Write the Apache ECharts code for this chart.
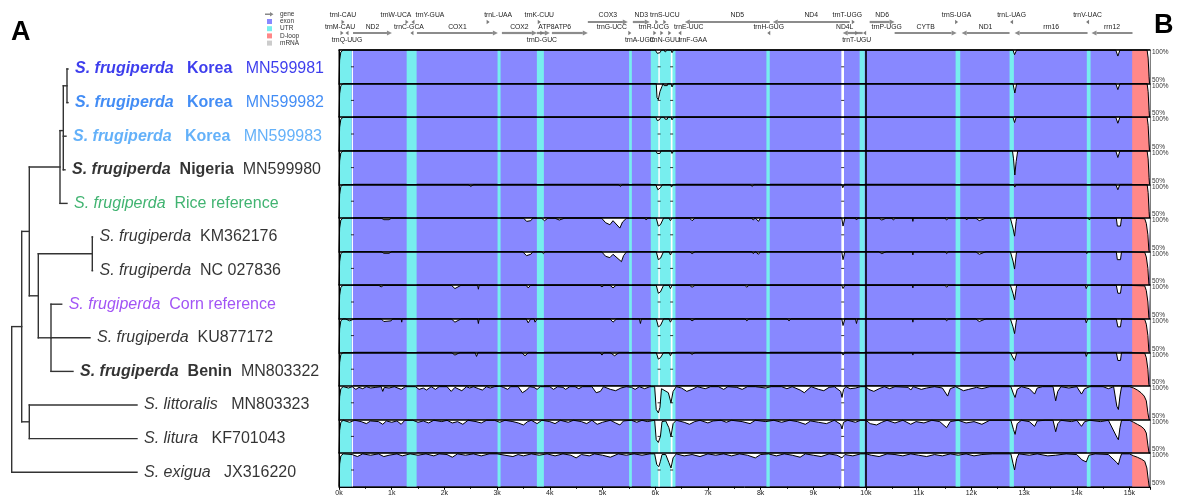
<!DOCTYPE html>
<html><head><meta charset="utf-8">
<script src="https://cdn.jsdelivr.net/npm/echarts@6/dist/echarts.min.js"></script>
<style>html,body{margin:0;padding:0;background:#fff}#c{width:1180px;height:497px}</style>
</head><body><div id="c"></div>
<script>
// ---------------- DATA ----------------
const SEQ_LEN = 15390;
const JUNCTION = 9994;
const TICK_LABELS = ['0k','1k','2k','3k','4k','5k','6k','7k','8k','9k','10k','11k','12k','13k','14k','15k'];

// leaf order (top to bottom)
const LEAF_SPECIES = ['S. frugiperda','S. frugiperda','S. frugiperda','S. frugiperda','S. frugiperda','S. frugiperda','S. frugiperda','S. frugiperda','S. frugiperda','S. frugiperda','S. littoralis','S. litura','S. exigua'];
const LEAF_PLACE = ['Korea','Korea','Korea','Nigeria','Rice reference','','','Corn reference','','Benin','','',''];
const LEAF_ACCESSION = ['MN599981','MN599982','MN599983','MN599980','','KM362176','NC 027836','','KU877172','MN803322','MN803323','KF701043','JX316220'];
// tree: [name, depth, children]; numbers are leaf indexes
const TREE = ['root', 11.7, [
  ['n5', 21.7, [
    ['n4', 29.3, [
      ['n3', 60, [
        ['n2', 63.3, [ ['n1', 67, [0, 1]], 2, 3 ]],
        4 ]],
      ['n7', 38.3, [
        ['n8', 92.3, [5, 6]],
        ['n9', 51, [7, 8, 9]] ]] ]],
    ['n6', 29.3, [10, 11]] ]],
  12 ]];
const LEAF_DEPTH = [68, 68, 66, 65, 67, 92.5, 92.5, 61.7, 90, 73, 137, 137, 137];

// feature bands (bp)
const UTR_BANDS = [[0,240],[1284,1473],[3009,3066],[3755,3888],[5505,5557],[5917,6385],[8111,8174],[9880,9975],[11701,11789],[12725,12807],[14191,14262]];
const DLOOP_BANDS = [[15052,15375]];
const GAP_BANDS = [[245,265],[6060,6088],[6296,6328],[9533,9583]];
const GAP_MARKS = [255, 6074, 6312, 9558];

// genes: name, start, end, strand, tier
const GENES = [
 ['ND2',266,1005,1,'B'],['COX1',1479,3015,1,'B'],['COX2',3091,3755,1,'B'],['ATP8',3755,4002,1,'B'],
 ['ATP6',4040,4722,1,'B'],['COX3',4722,5481,1,'A'],['ND3',5576,5898,1,'A'],['ND5',6562,8174,-1,'A'],
 ['ND4',8231,9691,-1,'A'],['ND4L',9558,9937,-1,'B'],['ND6',10070,10544,1,'A'],['CYTB',10544,11720,1,'B'],
 ['ND1',11815,12725,-1,'B'],['rrn16',12820,14205,-1,'B'],['rrn12',14280,15058,-1,'B']
];
// tRNAs: name, position, strand, marker tier, label tier
const TRNAS = [
 ['trnI-CAU',76,1,'A','A'],['trnM-CAU',57,1,'B','B'],['trnQ-UUG',152,-1,'B','C'],
 ['trnW-UCA',1290,1,'A','A'],['trnC-GCA',1384,-1,'B','B'],['trnY-GUA',1403,-1,'A','A'],
 ['trnL-UAA',2830,1,'A','A'],['trnK-CUU',3800,1,'A','A'],['trnD-GUC',3850,1,'B','C'],
 ['trnG-UCC',5519,1,'B','B'],['trnA-UGC',5993,1,'B','C'],['trnR-UCG',6031,1,'A','B'],
 ['trnN-GUU',6126,1,'B','C'],['trnS-UCU',6183,1,'A','A'],['trnE-UUC',6277,1,'B','B'],
 ['trnF-GAA',6467,-1,'B','C'],['trnH-GUG',8155,-1,'B','B'],['trnT-UGG',9760,1,'A','A'],
 ['trnT-UGU',9824,1,'B','C'],['trnP-UGG',9975,-1,'B','B'],['trnS-UGA',11720,1,'A','A'],
 ['trnL-UAG',12763,-1,'A','A'],['trnV-UAC',14205,-1,'A','A']
];

// conservation curves (% identity) per row
const CONS_MN599981 = [[0,50],[12,85],[35,97],[80,100],[6000,100],[6040,95],[6090,96],[6120,100],[6170,100],[6190,97],[6230,100],[6300,100],[6320,96],[6350,100],[12790,100],[12820,93],[12860,100],[14740,100],[14780,91],[14820,100],[15335,100],[15355,88],[15372,60],[15380,50],[15390,50]];
const CONS_MN599982 = [[0,50],[12,85],[35,97],[80,100],[6020,100],[6035,79],[6060,76],[6090,88],[6130,96],[6150,100],[6170,97],[6230,97],[6240,100],[6300,100],[6320,95],[6350,100],[12790,100],[12825,86],[12860,100],[14740,100],[14780,91],[14820,100],[15335,100],[15355,88],[15372,60],[15380,50],[15390,50]];
const CONS_MN599983 = [[0,50],[12,85],[35,97],[80,100],[6010,100],[6040,95],[6080,96],[6110,100],[6170,100],[6190,97],[6230,97],[6240,100],[6300,100],[6320,96],[6350,100],[12790,100],[12820,92],[12850,100],[14740,100],[14780,91],[14820,100],[15335,100],[15355,88],[15372,60],[15380,50],[15390,50]];
const CONS_MN599980 = [[0,50],[12,85],[35,97],[80,100],[6010,100],[6040,96],[6090,96],[6110,100],[6300,100],[6320,96],[6350,100],[12780,100],[12800,88],[12825,64],[12850,84],[12880,100],[14740,100],[14780,90],[14820,100],[15335,100],[15355,88],[15372,60],[15380,50],[15390,50]];
const CONS_RICE = [[0,50],[12,85],[35,97],[80,100],[2450,100],[2500,97],[2560,100],[5300,100],[5340,97],[5380,100],[6010,100],[6050,92],[6100,95],[6140,100],[6290,100],[6310,96],[6340,100],[7800,100],[7840,97],[7880,100],[9540,100],[9560,95],[9590,100],[12800,100],[12825,96],[12850,100],[14740,100],[14780,92],[14820,100],[15335,100],[15355,88],[15372,60],[15380,50],[15390,50]];
const CONS_KM362176 = [[0,50],[12,85],[35,97],[80,100],[800,100],[850,97.5],[950,97.5],[1000,100],[2040,100],[2070,98],[2110,100],[3500,100],[3560,95],[3640,96],[3680,100],[3840,100],[3900,96],[3970,100],[4090,100],[4180,97],[4290,100],[4980,100],[5060,93],[5140,90],[5200,96],[5330,85],[5380,94],[5460,100],[5800,100],[5830,97],[5860,100],[6020,100],[6060,88],[6100,90],[6160,100],[6260,100],[6290,96],[6320,100],[6650,100],[6700,96],[6760,100],[7230,100],[7260,98],[7300,100],[7830,100],[7860,97],[7900,100],[7960,95],[8000,100],[8900,100],[8930,97.5],[8970,100],[9540,100],[9565,88],[9600,100],[9800,100],[9820,97],[9850,100],[10240,100],[10300,97],[10390,100],[10490,100],[10520,97],[10560,100],[10880,100],[10890,95],[10900,100],[11000,100],[11020,97.5],[11050,100],[11500,100],[11530,97],[11570,100],[11890,100],[11910,97],[11940,100],[12080,100],[12150,96],[12280,100],[12740,100],[12790,85],[12820,73],[12850,95],[12860,100],[14220,100],[14240,97],[14260,100],[14750,100],[14770,88],[14830,88],[14850,100],[15290,99],[15320,92],[15350,75],[15368,52],[15380,50],[15390,50]];
const CONS_NC027836 = [[0,50],[12,85],[35,97],[80,100],[800,100],[850,97.5],[950,97.5],[1000,100],[3480,100],[3560,94],[3640,96],[3680,100],[3840,100],[3880,97],[3920,100],[4980,100],[5060,93],[5140,91],[5200,96],[5360,85],[5400,94],[5460,100],[6020,100],[6060,88],[6100,90],[6160,100],[6260,100],[6290,95],[6320,100],[6650,100],[6700,97],[6760,100],[7830,100],[7860,97],[7900,100],[7960,96],[8000,100],[9540,100],[9565,88],[9600,100],[10240,100],[10300,97],[10390,100],[10880,100],[10890,95],[10900,100],[11500,100],[11530,97],[11570,100],[12080,100],[12150,96],[12280,100],[12740,100],[12790,86],[12820,74],[12850,95],[12860,100],[14170,100],[14190,97],[14210,100],[14750,100],[14770,88],[14830,88],[14850,100],[15290,99],[15320,92],[15350,75],[15368,52],[15380,50],[15390,50]];
const CONS_CORN = [[0,50],[12,85],[35,97],[80,100],[750,100],[800,97.5],[850,100],[2130,100],[2200,95],[2320,100],[2630,100],[2645,94],[2660,100],[3550,100],[3590,96],[3640,100],[4950,100],[4990,97.5],[5030,100],[5140,100],[5200,96],[5260,100],[6020,100],[6060,88],[6100,90],[6160,100],[6260,100],[6290,95],[6320,100],[6650,100],[6700,97],[6760,100],[7700,100],[7740,97],[7780,100],[9540,100],[9565,95],[9600,100],[10880,100],[10890,96],[10900,100],[11500,100],[11530,97],[11570,100],[12740,100],[12790,88],[12820,78],[12850,95],[12860,100],[14160,100],[14180,95],[14210,100],[14750,100],[14780,88],[14830,88],[14850,100],[15290,99],[15320,92],[15350,75],[15368,52],[15380,50],[15390,50]];
const CONS_KU877172 = [[0,50],[12,85],[35,97],[80,100],[120,100],[200,97],[300,100],[800,100],[850,96],[990,97],[1020,100],[1180,100],[1190,95],[1200,100],[2130,100],[2200,95],[2320,100],[2630,100],[2645,93],[2660,100],[3550,100],[3590,94],[3640,100],[3700,100],[3720,95],[3760,100],[5140,100],[5200,95],[5270,100],[5700,100],[5720,93],[5740,100],[6020,100],[6060,88],[6100,90],[6160,100],[6260,100],[6290,95],[6320,100],[6650,100],[6700,97],[6760,100],[7700,100],[7740,97],[7780,100],[8500,100],[8540,97],[8580,100],[9540,100],[9565,90],[9600,100],[9800,100],[9820,93],[9840,100],[10880,100],[10890,95],[10900,100],[11500,100],[11530,97],[11570,100],[12080,100],[12150,96],[12280,100],[12740,100],[12790,88],[12820,78],[12850,95],[12860,100],[14160,100],[14180,94],[14210,100],[14750,100],[14780,88],[14830,88],[14850,100],[15290,99],[15320,92],[15350,75],[15368,52],[15380,50],[15390,50]];
const CONS_MN803322 = [[0,50],[12,85],[35,97],[80,100],[780,100],[810,97.5],[840,100],[2130,100],[2200,96],[2300,100],[2580,100],[2610,94],[2640,100],[3460,100],[3530,95],[3600,100],[4950,100],[4990,96],[5030,100],[5140,100],[5230,95],[5320,100],[6020,100],[6060,90],[6100,92],[6160,100],[6260,100],[6290,95],[6320,100],[6650,100],[6700,97],[6760,100],[9540,100],[9565,96],[9600,100],[10880,100],[10890,96],[10900,100],[12740,100],[12790,92],[12820,88],[12850,96],[12860,100],[14160,100],[14180,94],[14210,100],[14750,100],[14780,88],[14830,88],[14850,100],[15290,99],[15320,92],[15350,75],[15368,52],[15380,50],[15390,50]];
const CONS_LITTORALIS = [[0,50],[12,84],[35,96],[80,99],[180,97],[250,99],[320,95],[380,98],[450,96],[520,99],[600,97],[700,98],[800,99],[830,92],[860,98],[950,97],[1050,99],[1180,95],[1260,99],[1450,99],[1520,95],[1600,97],[1660,94],[1750,99],[1830,95],[1900,99],[2050,99],[2130,92],[2200,98],[2330,93],[2420,99],[2480,97],[2550,99],[2650,96],[2720,94],[2800,99],[2870,97],[2950,99],[3050,100],[3120,98],[3200,95],[3260,99],[3400,99],[3480,90],[3560,94],[3620,99],[3700,98],[3760,95],[3820,99],[4000,99],[4070,95],[4150,99],[4250,98],[4300,95],[4380,99],[4480,99],[4550,96],[4620,99],[4800,99],[4880,90],[4960,92],[5020,99],[5150,95],[5250,93],[5350,97],[5450,99],[5550,98],[5620,95],[5700,99],[5800,96],[5900,99],[5990,99],[6020,65],[6060,60],[6090,68],[6120,96],[6150,98],[6250,90],[6300,75],[6340,92],[6400,99],[6500,97],[6600,92],[6700,95],[6800,99],[6950,96],[7050,99],[7200,99],[7300,95],[7380,99],[7550,98],[7650,95],[7750,99],[7900,99],[8100,97],[8200,99],[8400,99],[8500,96],[8600,99],[8750,94],[8830,90],[8900,95],[8960,99],[9100,95],[9200,93],[9300,98],[9400,99],[9520,92],[9545,83],[9575,95],[9620,99],[9700,96],[9800,97],[9900,99],[10000,99],[10050,95],[10150,92],[10250,96],[10350,99],[10450,96],[10550,99],[10800,98],[10850,94],[10900,99],[11050,95],[11150,97],[11300,99],[11450,97],[11550,85],[11600,96],[11700,99],[11850,93],[11950,95],[12100,98],[12200,96],[12350,99],[12750,99],[12800,88],[12830,83],[12870,95],[12950,99],[13100,96],[13200,88],[13250,97],[13350,99],[13550,99],[13600,78],[13640,92],[13700,99],[13850,97],[14000,99],[14090,88],[14150,96],[14250,99],[14500,99],[14600,96],[14700,99],[14760,70],[14790,65],[14820,85],[14850,99],[15000,99],[15080,97],[15150,94],[15220,90],[15280,85],[15320,78],[15350,60],[15372,50],[15390,50]];
const CONS_LITURA = [[0,50],[12,84],[35,96],[80,99],[200,96],[300,99],[420,97],[520,94],[600,98],[750,97],[830,93],[900,98],[1000,96],[1100,98],[1180,93],[1250,99],[1400,99],[1500,96],[1600,98],[1700,95],[1800,99],[1950,97],[2050,99],[2150,95],[2250,97],[2350,93],[2450,99],[2600,97],[2700,95],[2800,99],[2950,99],[3050,96],[3150,99],[3300,97],[3400,95],[3500,92],[3580,97],[3650,99],[3760,94],[3850,99],[4000,97],[4100,94],[4200,99],[4350,96],[4450,99],[4600,97],[4700,94],[4800,99],[4900,93],[5000,96],[5150,99],[5250,95],[5330,92],[5400,98],[5550,99],[5650,96],[5750,99],[5850,97],[5990,99],[6020,70],[6060,66],[6100,75],[6130,97],[6200,98],[6260,88],[6300,75],[6340,94],[6400,99],[6550,96],[6650,93],[6750,97],[6850,99],[7000,95],[7100,98],[7250,99],[7350,96],[7450,99],[7650,97],[7800,94],[7900,99],[8100,97],[8250,99],[8400,96],[8550,99],[8700,97],[8850,93],[8950,98],[9100,96],[9250,94],[9400,99],[9520,93],[9545,86],[9575,96],[9650,99],[9800,96],[9900,99],[10000,99],[10080,94],[10200,92],[10300,96],[10400,99],[10550,95],[10700,99],[10850,93],[10950,97],[11100,95],[11250,99],[11400,97],[11530,88],[11600,97],[11750,99],[11900,95],[12050,97],[12200,93],[12350,99],[12750,99],[12800,85],[12830,78],[12870,94],[12950,99],[13100,97],[13200,90],[13250,98],[13400,99],[13550,99],[13600,82],[13640,94],[13700,99],[13900,97],[14000,99],[14090,90],[14150,97],[14250,99],[14450,97],[14600,99],[14760,74],[14790,70],[14820,88],[14850,99],[15000,99],[15080,96],[15150,93],[15220,90],[15280,86],[15320,80],[15350,62],[15372,50],[15390,50]];
const CONS_EXIGUA = [[0,50],[12,84],[35,96],[80,99],[250,98],[350,95],[450,99],[600,97],[750,99],[850,95],[950,97],[1100,99],[1200,96],[1350,99],[1500,97],[1650,99],[1800,96],[1900,99],[2050,98],[2150,94],[2250,99],[2400,97],[2550,99],[2700,96],[2850,99],[3000,99],[3150,97],[3300,95],[3400,98],[3500,96],[3650,99],[3800,97],[3950,99],[4100,96],[4250,99],[4400,97],[4500,93],[4600,98],[4750,96],[4850,99],[5000,97],[5150,94],[5300,99],[5450,97],[5600,99],[5750,97],[5900,99],[5990,99],[6030,83],[6070,80],[6100,88],[6130,98],[6200,98],[6260,86],[6300,78],[6340,93],[6400,99],[6550,96],[6700,98],[6850,95],[7000,99],[7150,97],[7300,99],[7450,96],[7600,99],[7750,97],[7900,93],[8000,98],[8150,99],[8300,96],[8450,99],[8600,97],[8750,94],[8850,99],[9000,97],[9150,95],[9300,99],[9450,97],[9545,93],[9600,98],[9750,96],[9900,99],[10000,99],[10100,97],[10250,95],[10400,99],[10550,98],[10700,96],[10850,99],[11000,97],[11150,95],[11300,98],[11450,96],[11600,99],[11750,97],[11900,99],[12050,96],[12200,98],[12400,99],[12750,99],[12790,85],[12820,75],[12860,92],[12900,99],[13100,97],[13250,99],[13450,96],[13600,97],[13800,99],[14000,98],[14100,90],[14180,87],[14230,97],[14350,99],[14600,98],[14760,86],[14790,83],[14820,92],[14850,99],[15000,99],[15080,96],[15150,94],[15230,91],[15290,88],[15330,78],[15358,60],[15375,50],[15390,50]];
const CURVES = [CONS_MN599981, CONS_MN599982, CONS_MN599983, CONS_MN599980, CONS_RICE, CONS_KM362176, CONS_NC027836, CONS_CORN, CONS_KU877172, CONS_MN803322, CONS_LITTORALIS, CONS_LITURA, CONS_EXIGUA];

// ---------------- LAYOUT / STYLE ----------------
const FONT = 'Liberation Sans, Arial, Helvetica, sans-serif';
const ROWS = CURVES.length;
const ROW_TOP = 50, ROW_H = 33.6, PLOT_LEFT = 339, PLOT_W = 811;
const COL = {exon:'#8888ff', utr:'#77eeee', dloop:'#ff8888', gap:'#ffffff', mrna:'#cccccc', gene:'#8c8c8c'};
const BAND_FILL = [COL.utr, COL.dloop, COL.gap];
const TIER_Y = {A:22, B:33, A_label:15, B_label:27, C_label:40};
const LABEL_DX = {'trnM-CAU':-2,'trnW-UCA':-11,'trnC-GCA':-3,'trnY-GUA':17,'trnL-UAA':10,'trnG-UCC':-18,'trnA-UGC':-15,'trnR-UCG':-3,'trnN-GUU':3,'trnE-UUC':19,'trnF-GAA':13,'trnP-UGG':22,'trnT-UGG':-6,'ATP8':3,'ATP6':-7,'ND5':10,'ND4L':-8};
const LEAF_STYLE = [
  {color:'#0c0ce8', sp:'bi', pl:'b', gap1:'   ', gap2:'   '},
  {color:'#1470f2', sp:'bi', pl:'b', gap1:'   ', gap2:'   '},
  {color:'#3d9ef7', sp:'bi', pl:'b', gap1:'   ', gap2:'   '},
  {color:'#000000', sp:'bi', pl:'b', gap1:'  ', gap2:'  '},
  {color:'#12a04e', sp:'i', pl:'n', gap1:'  ', gap2:''},
  {color:'#000000', sp:'i', pl:'n', gap1:'  ', gap2:''},
  {color:'#000000', sp:'i', pl:'n', gap1:'  ', gap2:''},
  {color:'#8a28f2', sp:'i', pl:'n', gap1:'  ', gap2:''},
  {color:'#000000', sp:'i', pl:'n', gap1:'  ', gap2:''},
  {color:'#000000', sp:'bi', pl:'b', gap1:'  ', gap2:'  '},
  {color:'#000000', sp:'i', pl:'n', gap1:'   ', gap2:''},
  {color:'#000000', sp:'i', pl:'n', gap1:'   ', gap2:''},
  {color:'#000000', sp:'i', pl:'n', gap1:'   ', gap2:''}
];

// ---------------- BUILD ----------------
const grids = [], xAxes = [], yAxes = [], series = [];
const bands = [];
UTR_BANDS.forEach(b => bands.push([b[0], b[1], 0]));
DLOOP_BANDS.forEach(b => bands.push([b[0], b[1], 1]));
GAP_BANDS.forEach(b => bands.push([b[0], b[1], 2]));

for (let i = 0; i < ROWS; i++) {
  grids.push({left: PLOT_LEFT, top: ROW_TOP + i * ROW_H, width: PLOT_W, height: ROW_H,
    show: true, backgroundColor: COL.exon, borderColor: '#000', borderWidth: 1, z: -5, containLabel: false, outerBoundsMode: 'none'});
  xAxes.push({gridIndex: i, type: 'value', min: 0, max: SEQ_LEN, position: 'top',
    axisLine: {show: true, onZero: false, lineStyle: {color: '#000', width: 1.6}}, axisTick: {show: false},
    axisLabel: {show: false}, splitLine: {show: false}, z: 10});
  yAxes.push({gridIndex: i, type: 'value', min: 50, max: 100, interval: 50, position: 'right',
    axisLine: {show: false}, axisTick: {show: false}, splitLine: {show: false},
    axisLabel: {show: true, margin: 2, formatter: v => v === 100 ? '{t|100%}' : (v === 50 ? '{b|50%}' : ''),
      rich: {t: {fontSize: 6.5, color: '#333', fontFamily: FONT, padding: [5, 0, 0, 0]},
             b: {fontSize: 6.5, color: '#333', fontFamily: FONT, padding: [0, 0, 7, 0]}}}});
}
for (let i = 0; i < ROWS; i++) {
  yAxes.push({gridIndex: i, type: 'value', min: 50, max: 100, position: 'left',
    axisLine: {show: true, onZero: false, lineStyle: {color: '#000', width: 1}}, axisTick: {show: false},
    axisLabel: {show: false}, splitLine: {show: false}, z: 10});
}
// bottom axis
xAxes.push({gridIndex: ROWS - 1, type: 'value', min: 0, max: SEQ_LEN, interval: 1000, position: 'bottom',
  axisLine: {show: true, onZero: false, lineStyle: {color: '#000', width: 1}},
  axisTick: {show: true, length: 3, lineStyle: {color: '#000'}},
  minorTick: {show: true, splitNumber: 2, length: 2, lineStyle: {color: '#000'}},
  axisLabel: {show: true, margin: 3, fontSize: 7, color: '#222', fontFamily: FONT, showMaxLabel: false,
    formatter: v => TICK_LABELS[Math.round(v / 1000)] || ''},
  splitLine: {show: false}, z: 10});

function bandRender(params, api) {
  const s = api.value(0), e = api.value(1), t = api.value(2);
  const p0 = api.coord([s, 100]), p1 = api.coord([e, 50]);
  return {type: 'rect', shape: {x: p0[0], y: p0[1], width: Math.max(p1[0] - p0[0], 1), height: p1[1] - p0[1]},
    style: {fill: BAND_FILL[t]}};
}

for (let i = 0; i < ROWS; i++) {
  series.push({type: 'custom', xAxisIndex: i, yAxisIndex: i, renderItem: bandRender, data: bands,
    encode: {x: [0, 1]}, z: -4, silent: true, clip: true});
  series.push({type: 'line', xAxisIndex: i, yAxisIndex: i, data: CURVES[i], showSymbol: false, symbol: 'none',
    lineStyle: {color: '#000', width: 1}, areaStyle: {color: '#ffffff', opacity: 1, origin: 'end'},
    z: 2, silent: true, clip: true,
    markLine: {silent: true, symbol: ['none', 'none'], label: {show: false},
      lineStyle: {color: '#000', width: 1.6, type: 'solid'}, data: [{xAxis: JUNCTION}], animation: false}});
  series.push({type: 'scatter', xAxisIndex: i, yAxisIndex: i, data: GAP_MARKS.map(p => [p, 75]),
    symbol: 'rect', symbolSize: [3, 1], itemStyle: {color: '#000'}, z: 3, silent: true});
}

// annotation track
const annGrid = grids.length;
grids.push({left: PLOT_LEFT, top: 0, width: PLOT_W, height: 48, show: false, containLabel: false, outerBoundsMode: 'none'});
const annX = xAxes.length, annY = yAxes.length;
xAxes.push({gridIndex: annGrid, type: 'value', min: 0, max: SEQ_LEN, show: false});
yAxes.push({gridIndex: annGrid, type: 'value', min: 0, max: 48, inverse: true, show: false});

function textEl(x, y, txt) {
  return {type: 'text', x: x, y: y, style: {text: txt, fontSize: 6.8, fontFamily: FONT, fill: '#222', align: 'center', verticalAlign: 'middle'}};
}
function geneRender(params, api) {
  const g = GENES[params.dataIndex];
  const a = api.coord([g[1], TIER_Y[g[4]]]), b = api.coord([g[2], TIER_Y[g[4]]]);
  const y = a[1], head = 5, hh = 2.6;
  let body, tri;
  if (g[3] > 0) { body = [[a[0], y], [b[0] - head, y]]; tri = [[b[0] - head, y - hh], [b[0], y], [b[0] - head, y + hh]]; }
  else { body = [[a[0] + head, y], [b[0], y]]; tri = [[a[0] + head, y - hh], [a[0], y], [a[0] + head, y + hh]]; }
  const lx = (a[0] + b[0]) / 2 + (LABEL_DX[g[0]] || 0);
  return {type: 'group', children: [
    {type: 'polyline', shape: {points: body}, style: {stroke: COL.gene, lineWidth: 2.2, fill: null}},
    {type: 'polygon', shape: {points: tri}, style: {fill: COL.gene}},
    textEl(lx, TIER_Y[g[4] + '_label'], g[0])]};
}
function trnaRender(params, api) {
  const t = TRNAS[params.dataIndex];
  const p = api.coord([t[1], TIER_Y[t[3]]]);
  const x = p[0], y = p[1], w = 3, hh = 2.2;
  const tri = t[2] > 0 ? [[x - w / 2, y - hh], [x + w / 2, y], [x - w / 2, y + hh]] : [[x + w / 2, y - hh], [x - w / 2, y], [x + w / 2, y + hh]];
  return {type: 'group', children: [
    {type: 'polygon', shape: {points: tri}, style: {fill: '#7a7a7a'}},
    textEl(x + (LABEL_DX[t[0]] || 0), TIER_Y[t[4] + '_label'], t[0])]};
}
series.push({type: 'custom', xAxisIndex: annX, yAxisIndex: annY, renderItem: geneRender,
  data: GENES.map(g => [g[1], g[2]]), encode: {x: [0, 1]}, clip: false, silent: true});
series.push({type: 'custom', xAxisIndex: annX, yAxisIndex: annY, renderItem: trnaRender,
  data: TRNAS.map(t => [t[1]]), encode: {x: [0]}, clip: false, silent: true});

// tree
const treeGrid = grids.length;
grids.push({left: 0, top: 69, width: 340, height: 33.6 * 12, show: false, containLabel: false, outerBoundsMode: 'none'});
const trX = xAxes.length, trY = yAxes.length;
xAxes.push({gridIndex: treeGrid, type: 'value', min: 0, max: 340, show: false});
yAxes.push({gridIndex: treeGrid, type: 'value', min: 0, max: 12, inverse: true, show: false});
const segs = [];
function walk(node, parentDepth) {
  if (typeof node === 'number') {
    segs.push([parentDepth, node, LEAF_DEPTH[node], node]);
    return node;
  }
  const ys = node[2].map(c => walk(c, node[1]));
  const lo = Math.min(...ys), hi = Math.max(...ys), my = ys.reduce((a, b) => a + b, 0) / ys.length;
  segs.push([node[1], lo, node[1], hi]);
  if (parentDepth !== null) segs.push([parentDepth, my, node[1], my]);
  return my;
}
walk(TREE, null);
series.push({type: 'custom', xAxisIndex: trX, yAxisIndex: trY, data: segs, encode: {x: [0, 2], y: [1, 3]}, clip: false, silent: true,
  renderItem: (params, api) => {
    const a = api.coord([api.value(0), api.value(1)]), b = api.coord([api.value(2), api.value(3)]);
    return {type: 'line', shape: {x1: a[0], y1: a[1], x2: b[0], y2: b[1]}, style: {stroke: '#333', lineWidth: 1.4, lineCap: 'square'}};
  }});
const leafRich = {};
LEAF_STYLE.forEach((s, i) => {
  leafRich['s' + i] = {color: s.color, fontSize: 16, fontFamily: FONT, fontStyle: 'italic', fontWeight: s.sp === 'bi' ? 'bold' : 'normal'};
  leafRich['p' + i] = {color: s.color, fontSize: 16, fontFamily: FONT, fontWeight: s.pl === 'b' ? 'bold' : 'normal'};
  leafRich['a' + i] = {color: s.color, fontSize: 16, fontFamily: FONT};
});
series.push({type: 'scatter', xAxisIndex: trX, yAxisIndex: trY, symbolSize: 0, silent: true,
  data: LEAF_DEPTH.map((d, i) => [d, i]),
  label: {show: true, position: 'right', distance: 7, rich: leafRich,
    formatter: p => {
      const i = p.dataIndex, s = LEAF_STYLE[i];
      let t = '{s' + i + '|' + LEAF_SPECIES[i] + '}' + '{p' + i + '|' + s.gap1 + LEAF_PLACE[i] + '}';
      if (LEAF_ACCESSION[i]) t += '{a' + i + '|' + (LEAF_PLACE[i] ? s.gap2 : '') + LEAF_ACCESSION[i] + '}';
      return t;
    }}});

// legend & panel letters
const legend = [['gene', null], ['exon', COL.exon], ['UTR', COL.utr], ['D-loop', COL.dloop], ['mRNA', COL.mrna]];
const graphics = [
  {type: 'text', left: 11, top: 19, style: {text: 'A', fontSize: 27, fontWeight: 'bold', fontFamily: FONT, fill: '#000'}},
  {type: 'text', left: 1154, top: 12, style: {text: 'B', fontSize: 27, fontWeight: 'bold', fontFamily: FONT, fill: '#000'}}
];
legend.forEach((l, k) => {
  const y = 14.3 + k * 7.2;
  if (l[1]) graphics.push({type: 'rect', shape: {x: 267, y: y - 2.5, width: 5, height: 5}, style: {fill: l[1]}});
  else graphics.push({type: 'polygon', shape: {points: [[265, y - 0.8], [270, y - 0.8], [270, y - 2.2], [273.5, y], [270, y + 2.2], [270, y + 0.8], [265, y + 0.8]]}, style: {fill: '#888'}});
  graphics.push({type: 'text', x: 280, y: y, style: {text: l[0], fontSize: 6.5, fontFamily: FONT, fill: '#333', verticalAlign: 'middle'}});
});

const chart = echarts.init(document.getElementById('c'), null, {renderer: 'canvas'});
chart.setOption({animation: false, backgroundColor: '#fff', grid: grids, xAxis: xAxes, yAxis: yAxes, series: series, graphic: graphics});
</script></body></html>
